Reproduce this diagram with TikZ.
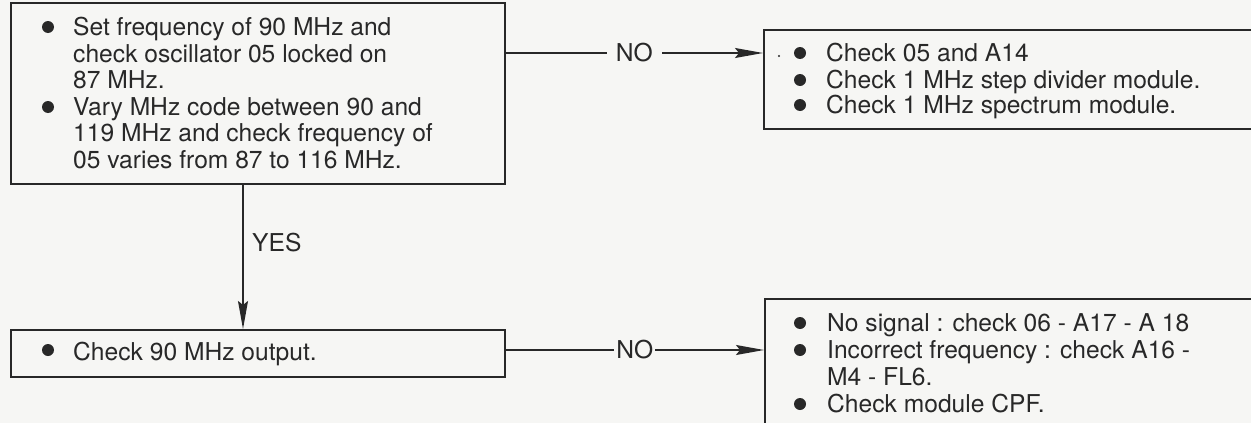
\documentclass[tikz,border=0pt]{standalone}
\usepackage{fontspec}
\setmainfont{TeX Gyre Heros}
\usetikzlibrary{arrows.meta}
\definecolor{paper}{RGB}{246,246,244}
\definecolor{ink}{RGB}{40,40,40}
\tikzset{
  box/.style={draw=ink, line width=1.6pt, anchor=north west, inner sep=0pt},
  bul/.style={circle, fill=ink, inner sep=0pt, minimum size=12pt},
  txt/.style={anchor=base west, inner sep=0pt, text=ink, font=\fontsize{24.6}{26}\selectfont},
  lab/.style={fill=paper, text=ink, inner sep=0pt, font=\fontsize{24.6}{26}\selectfont},
  arr/.style={draw=ink, line width=1.6pt, -{Stealth[length=28pt,width=10pt,inset=4pt]}},
}
\begin{document}
\begin{tikzpicture}[x=1pt,y=-1pt]
\fill[paper] (0,0) rectangle (1251,423);
\useasboundingbox (0,0) rectangle (1251,423);
% boxes
\node[box, minimum width=494pt, minimum height=181pt] (b1) at (10,2) {};
\node[box, minimum width=510pt, minimum height=99pt] (b2) at (763,29) {};
\node[box, minimum width=494pt, minimum height=47pt] (b3) at (10,329) {};
\node[box, minimum width=510pt, minimum height=150pt] (b4) at (764,298) {};
% box 1 text
\node[bul] (p11) at (48,27) {};
\node[bul] (p12) at (48,107) {};
\node[txt] (t11) at (73,35) {Set frequency of 90 MHz and};
\node[txt] (t12) at (73,62) {check oscillator 05 locked on};
\node[txt] (t13) at (73,88) {87 MHz.};
\node[txt] (t14) at (73,115) {Vary MHz code between 90 and};
\node[txt] (t15) at (73,141) {119 MHz and check frequency of};
\node[txt] (t16) at (73,168) {05 varies from 87 to 116 MHz.};
% box 2 text
\node[bul] (p21) at (800,53) {};
\node[bul] (p22) at (800,80) {};
\node[bul] (p23) at (800,105) {};
\fill[ink] (779,56) circle (1.2pt);
\node[txt] (t21) at (826,61) {Check 05 and A14};
\node[txt] (t22) at (826,88) {Check 1 MHz step divider module.};
\node[txt] (t23) at (826,113) {Check 1 MHz spectrum module.};
% box 3 text
\node[bul] (p31) at (48,350) {};
\node[txt] (t31) at (73,360) {Check 90 MHz output.};
% box 4 text
\node[bul] (p41) at (800,323) {};
\node[bul] (p42) at (800,350) {};
\node[bul] (p43) at (800,404) {};
\node[txt] (t41) at (827,331) {No signal : check 06 - A17 - A 18};
\node[txt] (t42) at (827,358) {Incorrect frequency : check A16 -};
\node[txt] (t43) at (827,385) {M4 - FL6.};
\node[txt] (t44) at (827,412) {Check module CPF.};
% connectors
\coordinate (yx) at (243,0);
\draw[arr] (b1.east |- p21) -- node[lab, inner xsep=9pt] (no1) {NO} (b2.west |- p21);
\draw[arr] (b1.south -| yx) -- (b3.north -| yx);
\node[anchor=west, inner sep=0pt, text=ink, font=\fontsize{24.6}{26}\selectfont] (yes) at (252,243) {YES};
\draw[arr] (b3.east |- p42) -- node[lab, inner xsep=2pt] (no2) {NO} (b4.west |- p42);
\end{tikzpicture}
\end{document}
